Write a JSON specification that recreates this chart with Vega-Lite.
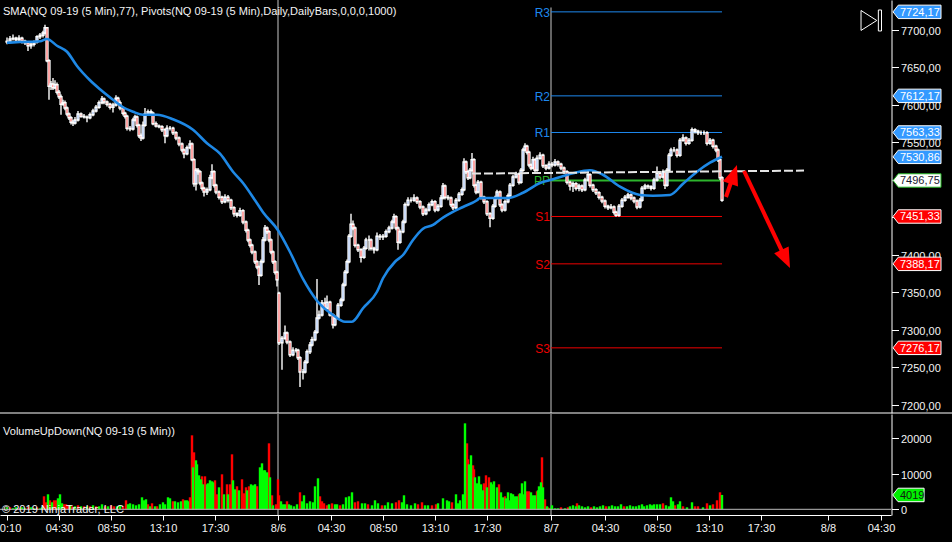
{
"$schema":"https://vega.github.io/schema/vega-lite/v6.json",
"width":952,"height":542,"padding":0,"autosize":"none","background":"#000000",
"config":{"view":{"stroke":null},"font":"Liberation Sans","axis":{"grid":false,"title":null}},
"datasets":{
"candles":[
{"t":7,"o":7684,"h":7690,"l":7681,"c":7685},{"t":10,"o":7685,"h":7692,"l":7683,"c":7688},{"t":13,"o":7688,"h":7694,"l":7686,"c":7689},{"t":16,"o":7689,"h":7691,"l":7684,"c":7687},{"t":19,"o":7687,"h":7693,"l":7685,"c":7689},{"t":22,"o":7689,"h":7691,"l":7682,"c":7685},{"t":25,"o":7685,"h":7687,"l":7680,"c":7683},{"t":28,"o":7683,"h":7685,"l":7672,"c":7679},{"t":31,"o":7679,"h":7684,"l":7675,"c":7681},{"t":34,"o":7681,"h":7686,"l":7678,"c":7684},{"t":37,"o":7684,"h":7693,"l":7682,"c":7691},{"t":40,"o":7691,"h":7696,"l":7688,"c":7693},{"t":43,"o":7693,"h":7699,"l":7690,"c":7696},{"t":45,"o":7696,"h":7707,"l":7694,"c":7703},{"t":47,"o":7703,"h":7704,"l":7657,"c":7659},{"t":49,"o":7659,"h":7661,"l":7607,"c":7625},{"t":51,"o":7625,"h":7632,"l":7620,"c":7628},{"t":53,"o":7628,"h":7636,"l":7620,"c":7623},{"t":55,"o":7623,"h":7633,"l":7621,"c":7627},{"t":57,"o":7627,"h":7630,"l":7614,"c":7617},{"t":59,"o":7617,"h":7620,"l":7608,"c":7611},{"t":61,"o":7611,"h":7614,"l":7587,"c":7601},{"t":63,"o":7601,"h":7607,"l":7599,"c":7603},{"t":65,"o":7603,"h":7606,"l":7593,"c":7596},{"t":67,"o":7596,"h":7598,"l":7585,"c":7588},{"t":69,"o":7588,"h":7590,"l":7580,"c":7583},{"t":71,"o":7583,"h":7585,"l":7574,"c":7577},{"t":73,"o":7577,"h":7580,"l":7572,"c":7576},{"t":75,"o":7576,"h":7584,"l":7574,"c":7580},{"t":78,"o":7580,"h":7592,"l":7578,"c":7588},{"t":81,"o":7588,"h":7590,"l":7583,"c":7585},{"t":84,"o":7585,"h":7588,"l":7582,"c":7584},{"t":87,"o":7584,"h":7586,"l":7577,"c":7583},{"t":90,"o":7583,"h":7590,"l":7581,"c":7587},{"t":93,"o":7587,"h":7595,"l":7585,"c":7592},{"t":96,"o":7592,"h":7600,"l":7590,"c":7597},{"t":99,"o":7597,"h":7606,"l":7595,"c":7603},{"t":102,"o":7603,"h":7612,"l":7601,"c":7608},{"t":104,"o":7608,"h":7610,"l":7601,"c":7604},{"t":107,"o":7604,"h":7606,"l":7598,"c":7601},{"t":110,"o":7601,"h":7603,"l":7594,"c":7597},{"t":113,"o":7597,"h":7603,"l":7590,"c":7600},{"t":116,"o":7600,"h":7613,"l":7598,"c":7609},{"t":118,"o":7609,"h":7611,"l":7600,"c":7603},{"t":120,"o":7603,"h":7606,"l":7593,"c":7596},{"t":123,"o":7596,"h":7598,"l":7586,"c":7589},{"t":125,"o":7589,"h":7591,"l":7582,"c":7585},{"t":127,"o":7585,"h":7587,"l":7566,"c":7569},{"t":130,"o":7569,"h":7572,"l":7565,"c":7568},{"t":133,"o":7568,"h":7583,"l":7566,"c":7580},{"t":135,"o":7580,"h":7587,"l":7578,"c":7584},{"t":137,"o":7584,"h":7586,"l":7570,"c":7573},{"t":139,"o":7573,"h":7575,"l":7556,"c":7559},{"t":141,"o":7559,"h":7562,"l":7552,"c":7556},{"t":143,"o":7556,"h":7578,"l":7554,"c":7573},{"t":145,"o":7573,"h":7596,"l":7571,"c":7588},{"t":148,"o":7588,"h":7594,"l":7586,"c":7591},{"t":151,"o":7591,"h":7594,"l":7587,"c":7589},{"t":153,"o":7589,"h":7591,"l":7573,"c":7575},{"t":156,"o":7575,"h":7578,"l":7570,"c":7572},{"t":159,"o":7572,"h":7574,"l":7569,"c":7571},{"t":162,"o":7571,"h":7573,"l":7564,"c":7567},{"t":165,"o":7567,"h":7569,"l":7549,"c":7559},{"t":167,"o":7559,"h":7573,"l":7557,"c":7569},{"t":170,"o":7569,"h":7572,"l":7566,"c":7569},{"t":173,"o":7569,"h":7571,"l":7560,"c":7563},{"t":176,"o":7563,"h":7565,"l":7553,"c":7556},{"t":179,"o":7556,"h":7558,"l":7545,"c":7548},{"t":182,"o":7548,"h":7550,"l":7537,"c":7540},{"t":184,"o":7540,"h":7542,"l":7529,"c":7535},{"t":187,"o":7535,"h":7546,"l":7533,"c":7543},{"t":190,"o":7543,"h":7553,"l":7541,"c":7548},{"t":192,"o":7548,"h":7550,"l":7525,"c":7527},{"t":194,"o":7527,"h":7529,"l":7491,"c":7495},{"t":196,"o":7495,"h":7516,"l":7486,"c":7513},{"t":198,"o":7513,"h":7516,"l":7507,"c":7511},{"t":200,"o":7511,"h":7513,"l":7493,"c":7496},{"t":202,"o":7496,"h":7498,"l":7486,"c":7489},{"t":204,"o":7489,"h":7491,"l":7478,"c":7484},{"t":207,"o":7484,"h":7490,"l":7480,"c":7487},{"t":210,"o":7487,"h":7507,"l":7485,"c":7503},{"t":212,"o":7503,"h":7521,"l":7501,"c":7511},{"t":214,"o":7511,"h":7513,"l":7490,"c":7493},{"t":216,"o":7493,"h":7495,"l":7481,"c":7484},{"t":219,"o":7484,"h":7486,"l":7474,"c":7477},{"t":222,"o":7477,"h":7479,"l":7468,"c":7471},{"t":225,"o":7471,"h":7481,"l":7469,"c":7477},{"t":228,"o":7477,"h":7480,"l":7470,"c":7473},{"t":231,"o":7473,"h":7475,"l":7460,"c":7463},{"t":234,"o":7463,"h":7465,"l":7451,"c":7455},{"t":237,"o":7455,"h":7457,"l":7450,"c":7453},{"t":240,"o":7453,"h":7463,"l":7451,"c":7459},{"t":243,"o":7459,"h":7461,"l":7441,"c":7444},{"t":246,"o":7444,"h":7446,"l":7430,"c":7433},{"t":248,"o":7433,"h":7435,"l":7417,"c":7420},{"t":250,"o":7420,"h":7422,"l":7410,"c":7413},{"t":252,"o":7413,"h":7415,"l":7401,"c":7404},{"t":255,"o":7404,"h":7406,"l":7388,"c":7391},{"t":257,"o":7391,"h":7393,"l":7381,"c":7384},{"t":259,"o":7384,"h":7386,"l":7360,"c":7373},{"t":261,"o":7373,"h":7394,"l":7371,"c":7391},{"t":263,"o":7391,"h":7424,"l":7389,"c":7420},{"t":265,"o":7420,"h":7440,"l":7418,"c":7436},{"t":267,"o":7436,"h":7438,"l":7428,"c":7431},{"t":269,"o":7431,"h":7433,"l":7417,"c":7420},{"t":271,"o":7420,"h":7422,"l":7401,"c":7404},{"t":273,"o":7404,"h":7406,"l":7388,"c":7391},{"t":275,"o":7391,"h":7393,"l":7374,"c":7377},{"t":277,"o":7377,"h":7379,"l":7358,"c":7367},{"t":279,"o":7349,"h":7351,"l":7280,"c":7283},{"t":282,"o":7283,"h":7292,"l":7247,"c":7289},{"t":285,"o":7289,"h":7306,"l":7287,"c":7296},{"t":287,"o":7296,"h":7298,"l":7281,"c":7284},{"t":290,"o":7284,"h":7286,"l":7264,"c":7267},{"t":293,"o":7267,"h":7277,"l":7265,"c":7273},{"t":296,"o":7273,"h":7276,"l":7270,"c":7273},{"t":298,"o":7273,"h":7275,"l":7260,"c":7263},{"t":300,"o":7263,"h":7265,"l":7224,"c":7244},{"t":303,"o":7244,"h":7248,"l":7234,"c":7244},{"t":305,"o":7244,"h":7260,"l":7242,"c":7257},{"t":307,"o":7257,"h":7274,"l":7255,"c":7271},{"t":310,"o":7271,"h":7284,"l":7268,"c":7280},{"t":312,"o":7280,"h":7291,"l":7278,"c":7287},{"t":315,"o":7287,"h":7300,"l":7285,"c":7297},{"t":317,"o":7297,"h":7368,"l":7295,"c":7316},{"t":319,"o":7316,"h":7326,"l":7314,"c":7320},{"t":322,"o":7320,"h":7340,"l":7318,"c":7336},{"t":325,"o":7336,"h":7343,"l":7327,"c":7329},{"t":327,"o":7329,"h":7346,"l":7327,"c":7337},{"t":330,"o":7337,"h":7339,"l":7318,"c":7320},{"t":333,"o":7320,"h":7322,"l":7302,"c":7307},{"t":335,"o":7307,"h":7319,"l":7305,"c":7316},{"t":338,"o":7316,"h":7336,"l":7314,"c":7333},{"t":341,"o":7333,"h":7343,"l":7331,"c":7340},{"t":343,"o":7340,"h":7363,"l":7338,"c":7360},{"t":345,"o":7360,"h":7380,"l":7358,"c":7377},{"t":347,"o":7377,"h":7394,"l":7375,"c":7391},{"t":349,"o":7391,"h":7428,"l":7389,"c":7425},{"t":351,"o":7425,"h":7455,"l":7423,"c":7441},{"t":353,"o":7441,"h":7446,"l":7433,"c":7436},{"t":355,"o":7436,"h":7438,"l":7410,"c":7413},{"t":358,"o":7413,"h":7415,"l":7404,"c":7407},{"t":361,"o":7407,"h":7409,"l":7390,"c":7397},{"t":364,"o":7397,"h":7412,"l":7395,"c":7409},{"t":366,"o":7409,"h":7423,"l":7407,"c":7420},{"t":369,"o":7420,"h":7426,"l":7406,"c":7420},{"t":371,"o":7420,"h":7422,"l":7406,"c":7409},{"t":374,"o":7409,"h":7411,"l":7402,"c":7407},{"t":377,"o":7407,"h":7430,"l":7405,"c":7425},{"t":380,"o":7425,"h":7428,"l":7420,"c":7424},{"t":383,"o":7424,"h":7428,"l":7420,"c":7425},{"t":386,"o":7425,"h":7434,"l":7423,"c":7431},{"t":389,"o":7431,"h":7439,"l":7429,"c":7436},{"t":392,"o":7436,"h":7447,"l":7434,"c":7444},{"t":394,"o":7444,"h":7455,"l":7442,"c":7451},{"t":396,"o":7451,"h":7453,"l":7433,"c":7436},{"t":398,"o":7436,"h":7438,"l":7407,"c":7417},{"t":400,"o":7417,"h":7434,"l":7415,"c":7431},{"t":403,"o":7431,"h":7447,"l":7429,"c":7444},{"t":405,"o":7444,"h":7470,"l":7442,"c":7467},{"t":408,"o":7467,"h":7477,"l":7465,"c":7473},{"t":411,"o":7473,"h":7477,"l":7470,"c":7473},{"t":414,"o":7473,"h":7481,"l":7471,"c":7476},{"t":417,"o":7476,"h":7478,"l":7468,"c":7471},{"t":420,"o":7471,"h":7473,"l":7461,"c":7464},{"t":423,"o":7464,"h":7466,"l":7452,"c":7455},{"t":426,"o":7455,"h":7463,"l":7453,"c":7460},{"t":429,"o":7460,"h":7470,"l":7458,"c":7467},{"t":432,"o":7467,"h":7474,"l":7465,"c":7471},{"t":435,"o":7471,"h":7473,"l":7457,"c":7460},{"t":438,"o":7460,"h":7468,"l":7458,"c":7465},{"t":441,"o":7465,"h":7480,"l":7463,"c":7476},{"t":443,"o":7476,"h":7496,"l":7474,"c":7492},{"t":445,"o":7492,"h":7494,"l":7474,"c":7477},{"t":448,"o":7477,"h":7480,"l":7473,"c":7476},{"t":451,"o":7476,"h":7478,"l":7464,"c":7467},{"t":453,"o":7467,"h":7469,"l":7460,"c":7463},{"t":456,"o":7463,"h":7476,"l":7461,"c":7473},{"t":459,"o":7473,"h":7484,"l":7471,"c":7481},{"t":462,"o":7481,"h":7490,"l":7479,"c":7487},{"t":464,"o":7487,"h":7529,"l":7485,"c":7524},{"t":466,"o":7524,"h":7526,"l":7508,"c":7511},{"t":468,"o":7511,"h":7513,"l":7500,"c":7503},{"t":470,"o":7503,"h":7516,"l":7501,"c":7513},{"t":472,"o":7513,"h":7536,"l":7511,"c":7527},{"t":474,"o":7527,"h":7529,"l":7490,"c":7493},{"t":476,"o":7493,"h":7495,"l":7481,"c":7484},{"t":478,"o":7484,"h":7500,"l":7482,"c":7497},{"t":481,"o":7497,"h":7499,"l":7474,"c":7477},{"t":484,"o":7477,"h":7479,"l":7468,"c":7471},{"t":487,"o":7471,"h":7473,"l":7452,"c":7455},{"t":490,"o":7455,"h":7457,"l":7437,"c":7449},{"t":493,"o":7449,"h":7468,"l":7447,"c":7465},{"t":495,"o":7465,"h":7479,"l":7463,"c":7476},{"t":497,"o":7476,"h":7487,"l":7474,"c":7484},{"t":500,"o":7484,"h":7486,"l":7464,"c":7467},{"t":502,"o":7467,"h":7469,"l":7457,"c":7460},{"t":505,"o":7460,"h":7474,"l":7458,"c":7471},{"t":508,"o":7471,"h":7482,"l":7469,"c":7479},{"t":510,"o":7479,"h":7496,"l":7477,"c":7493},{"t":513,"o":7493,"h":7507,"l":7491,"c":7504},{"t":516,"o":7504,"h":7511,"l":7502,"c":7508},{"t":519,"o":7508,"h":7510,"l":7494,"c":7497},{"t":521,"o":7497,"h":7516,"l":7495,"c":7513},{"t":523,"o":7513,"h":7543,"l":7511,"c":7540},{"t":525,"o":7540,"h":7549,"l":7538,"c":7545},{"t":527,"o":7545,"h":7547,"l":7534,"c":7537},{"t":529,"o":7537,"h":7539,"l":7517,"c":7520},{"t":531,"o":7520,"h":7522,"l":7513,"c":7516},{"t":533,"o":7516,"h":7531,"l":7514,"c":7527},{"t":535,"o":7527,"h":7529,"l":7510,"c":7513},{"t":537,"o":7513,"h":7533,"l":7511,"c":7529},{"t":540,"o":7529,"h":7537,"l":7527,"c":7533},{"t":543,"o":7533,"h":7535,"l":7516,"c":7519},{"t":546,"o":7519,"h":7521,"l":7513,"c":7516},{"t":549,"o":7516,"h":7525,"l":7514,"c":7521},{"t":552,"o":7521,"h":7524,"l":7517,"c":7520},{"t":555,"o":7520,"h":7528,"l":7518,"c":7524},{"t":558,"o":7524,"h":7526,"l":7518,"c":7521},{"t":561,"o":7521,"h":7523,"l":7513,"c":7516},{"t":564,"o":7516,"h":7518,"l":7508,"c":7511},{"t":567,"o":7511,"h":7513,"l":7494,"c":7497},{"t":570,"o":7497,"h":7499,"l":7486,"c":7492},{"t":573,"o":7492,"h":7498,"l":7484,"c":7495},{"t":576,"o":7495,"h":7497,"l":7486,"c":7489},{"t":579,"o":7489,"h":7495,"l":7485,"c":7492},{"t":582,"o":7492,"h":7494,"l":7484,"c":7487},{"t":585,"o":7487,"h":7503,"l":7485,"c":7500},{"t":588,"o":7500,"h":7512,"l":7498,"c":7507},{"t":590,"o":7507,"h":7509,"l":7490,"c":7493},{"t":593,"o":7493,"h":7495,"l":7484,"c":7487},{"t":596,"o":7487,"h":7489,"l":7480,"c":7483},{"t":599,"o":7483,"h":7485,"l":7474,"c":7477},{"t":602,"o":7477,"h":7479,"l":7469,"c":7472},{"t":605,"o":7472,"h":7474,"l":7462,"c":7465},{"t":608,"o":7465,"h":7467,"l":7460,"c":7463},{"t":611,"o":7463,"h":7468,"l":7461,"c":7464},{"t":614,"o":7464,"h":7466,"l":7454,"c":7457},{"t":616,"o":7457,"h":7459,"l":7451,"c":7453},{"t":619,"o":7453,"h":7468,"l":7451,"c":7465},{"t":622,"o":7465,"h":7476,"l":7463,"c":7473},{"t":625,"o":7473,"h":7480,"l":7471,"c":7477},{"t":628,"o":7477,"h":7483,"l":7475,"c":7480},{"t":631,"o":7480,"h":7482,"l":7473,"c":7476},{"t":634,"o":7476,"h":7478,"l":7469,"c":7472},{"t":637,"o":7472,"h":7474,"l":7461,"c":7464},{"t":640,"o":7464,"h":7476,"l":7462,"c":7473},{"t":642,"o":7473,"h":7492,"l":7471,"c":7489},{"t":645,"o":7489,"h":7495,"l":7487,"c":7492},{"t":648,"o":7492,"h":7494,"l":7488,"c":7491},{"t":651,"o":7491,"h":7493,"l":7486,"c":7489},{"t":654,"o":7489,"h":7503,"l":7487,"c":7500},{"t":657,"o":7500,"h":7518,"l":7498,"c":7509},{"t":660,"o":7509,"h":7511,"l":7501,"c":7504},{"t":663,"o":7504,"h":7514,"l":7502,"c":7511},{"t":665,"o":7511,"h":7513,"l":7488,"c":7493},{"t":667,"o":7493,"h":7516,"l":7491,"c":7513},{"t":669,"o":7513,"h":7536,"l":7511,"c":7533},{"t":671,"o":7533,"h":7543,"l":7531,"c":7540},{"t":674,"o":7540,"h":7544,"l":7537,"c":7540},{"t":677,"o":7540,"h":7542,"l":7530,"c":7533},{"t":680,"o":7533,"h":7556,"l":7531,"c":7553},{"t":683,"o":7553,"h":7561,"l":7551,"c":7556},{"t":686,"o":7556,"h":7558,"l":7546,"c":7549},{"t":689,"o":7549,"h":7556,"l":7547,"c":7553},{"t":692,"o":7553,"h":7570,"l":7551,"c":7567},{"t":695,"o":7567,"h":7569,"l":7562,"c":7565},{"t":698,"o":7565,"h":7567,"l":7560,"c":7563},{"t":701,"o":7563,"h":7566,"l":7560,"c":7563},{"t":704,"o":7563,"h":7566,"l":7560,"c":7563},{"t":707,"o":7563,"h":7565,"l":7546,"c":7549},{"t":710,"o":7549,"h":7556,"l":7547,"c":7553},{"t":713,"o":7553,"h":7555,"l":7542,"c":7545},{"t":716,"o":7545,"h":7547,"l":7537,"c":7540},{"t":718,"o":7540,"h":7542,"l":7524,"c":7527},{"t":720,"o":7527,"h":7529,"l":7500,"c":7503},{"t":722,"o":7503,"h":7505,"l":7471,"c":7473}
],
"sma":[
{"t":7,"p":7683},{"t":20,"p":7684},{"t":40,"p":7685},{"t":47,"p":7688},{"t":57,"p":7679},{"t":67,"p":7671},{"t":77,"p":7652},{"t":90,"p":7633},{"t":100,"p":7621},{"t":113,"p":7607},{"t":123,"p":7597},{"t":133,"p":7591},{"t":143,"p":7587},{"t":157,"p":7587},{"t":173,"p":7581},{"t":193,"p":7567},{"t":207,"p":7549},{"t":220,"p":7535},{"t":233,"p":7511},{"t":243,"p":7496},{"t":255,"p":7473},{"t":263,"p":7457},{"t":278,"p":7433},{"t":290,"p":7404},{"t":303,"p":7368},{"t":317,"p":7339},{"t":333,"p":7320},{"t":345,"p":7311},{"t":352,"p":7311},{"t":363,"p":7329},{"t":377,"p":7351},{"t":383,"p":7369},{"t":395,"p":7391},{"t":403,"p":7400},{"t":413,"p":7420},{"t":423,"p":7435},{"t":433,"p":7440},{"t":440,"p":7447},{"t":447,"p":7453},{"t":463,"p":7464},{"t":477,"p":7473},{"t":480,"p":7476},{"t":497,"p":7476},{"t":508,"p":7476},{"t":523,"p":7483},{"t":540,"p":7496},{"t":553,"p":7501},{"t":573,"p":7509},{"t":590,"p":7513},{"t":603,"p":7507},{"t":620,"p":7491},{"t":640,"p":7480},{"t":653,"p":7479},{"t":670,"p":7480},{"t":683,"p":7495},{"t":697,"p":7511},{"t":710,"p":7523},{"t":722,"p":7531}
],
"pivots":[
{"name":"R3","a":551,"b":722,"p":7724.17,"col":"#1e88ee","w":1},
{"name":"R2","a":551,"b":722,"p":7612.17,"col":"#1e88ee","w":1},
{"name":"R1","a":551,"b":722,"p":7563.33,"col":"#1e88ee","w":1},
{"name":"PP","a":551,"b":722,"p":7499.33,"col":"#2db52d","w":2},
{"name":"S1","a":551,"b":722,"p":7451.33,"col":"#ee0000","w":1},
{"name":"S2","a":551,"b":722,"p":7388.17,"col":"#ee0000","w":1},
{"name":"S3","a":551,"b":722,"p":7276.17,"col":"#ee0000","w":1}
],
"tags":[
{"p":7724.17,"label":"7724,17","fill":"#3399ff","text":"#ffffff","edge":"#ffffff"},
{"p":7612.17,"label":"7612,17","fill":"#3399ff","text":"#ffffff","edge":"#ffffff"},
{"p":7563.33,"label":"7563,33","fill":"#3399ff","text":"#ffffff","edge":"#ffffff"},
{"p":7530.86,"label":"7530,86","fill":"#3399ff","text":"#ffffff","edge":"#ffffff"},
{"p":7499.33,"label":"7496,75","fill":"#ffffff","text":"#1a2030","edge":"#22b022"},
{"p":7451.33,"label":"7451,33","fill":"#ff0000","text":"#ffffff","edge":"#ffffff"},
{"p":7388.17,"label":"7388,17","fill":"#ff0000","text":"#ffffff","edge":"#ffffff"},
{"p":7276.17,"label":"7276,17","fill":"#ff0000","text":"#ffffff","edge":"#ffffff"}
],
"dashed":[{"t":472,"p":7508.5},{"t":804,"p":7512.5}],
"shafts":[{"a":726,"b":733.7,"p":7477.3,"q":7507.3},{"a":744,"b":785.7,"p":7512,"q":7394.7}],
"heads":[{"t":733.7,"p":7507.3,"ang":19},{"t":785.7,"p":7394.7,"ang":154.6}],
"sessions":[{"t":278,"top":7740},{"t":551,"top":7730}],
"volume":[
{"t":7,"v":560,"d":"u"},{"t":10,"v":560,"d":"d"},{"t":13,"v":280,"d":"u"},{"t":16,"v":560,"d":"u"},{"t":19,"v":280,"d":"d"},{"t":22,"v":560,"d":"u"},{"t":25,"v":280,"d":"u"},{"t":28,"v":560,"d":"d"},{"t":31,"v":560,"d":"u"},{"t":34,"v":280,"d":"u"},{"t":37,"v":560,"d":"d"},{"t":40,"v":280,"d":"u"},{"t":42,"v":560,"d":"u"},{"t":44,"v":3640,"d":"d"},{"t":46,"v":1960,"d":"d"},{"t":48,"v":4200,"d":"u"},{"t":50,"v":2520,"d":"d"},{"t":52,"v":1960,"d":"u"},{"t":54,"v":2520,"d":"d"},{"t":56,"v":2520,"d":"d"},{"t":58,"v":3080,"d":"u"},{"t":60,"v":4200,"d":"u"},{"t":62,"v":1680,"d":"u"},{"t":64,"v":1400,"d":"d"},{"t":66,"v":1400,"d":"d"},{"t":68,"v":1120,"d":"d"},{"t":70,"v":1120,"d":"u"},{"t":72,"v":840,"d":"d"},{"t":75,"v":840,"d":"u"},{"t":78,"v":1120,"d":"d"},{"t":81,"v":840,"d":"u"},{"t":84,"v":840,"d":"d"},{"t":87,"v":840,"d":"u"},{"t":90,"v":840,"d":"d"},{"t":93,"v":1120,"d":"u"},{"t":96,"v":840,"d":"d"},{"t":99,"v":840,"d":"u"},{"t":102,"v":1400,"d":"u"},{"t":105,"v":840,"d":"d"},{"t":108,"v":840,"d":"u"},{"t":111,"v":1120,"d":"d"},{"t":114,"v":840,"d":"d"},{"t":117,"v":840,"d":"u"},{"t":120,"v":1120,"d":"u"},{"t":123,"v":840,"d":"d"},{"t":126,"v":2520,"d":"d"},{"t":128,"v":1400,"d":"u"},{"t":130,"v":1680,"d":"u"},{"t":133,"v":1400,"d":"u"},{"t":136,"v":1120,"d":"u"},{"t":139,"v":1400,"d":"u"},{"t":142,"v":3360,"d":"u"},{"t":144,"v":2520,"d":"u"},{"t":146,"v":2800,"d":"u"},{"t":148,"v":1400,"d":"d"},{"t":150,"v":840,"d":"u"},{"t":152,"v":1680,"d":"d"},{"t":155,"v":840,"d":"u"},{"t":157,"v":840,"d":"d"},{"t":160,"v":1400,"d":"u"},{"t":163,"v":1960,"d":"u"},{"t":165,"v":1400,"d":"u"},{"t":168,"v":3360,"d":"u"},{"t":170,"v":3080,"d":"u"},{"t":173,"v":2240,"d":"d"},{"t":175,"v":2240,"d":"u"},{"t":178,"v":1960,"d":"u"},{"t":181,"v":2240,"d":"u"},{"t":183,"v":2800,"d":"d"},{"t":185,"v":2520,"d":"u"},{"t":187,"v":2520,"d":"u"},{"t":188,"v":2240,"d":"u"},{"t":190,"v":3360,"d":"d"},{"t":192,"v":20720,"d":"d"},{"t":194,"v":15960,"d":"d"},{"t":193,"v":11760,"d":"u"},{"t":196,"v":13720,"d":"u"},{"t":197,"v":12600,"d":"u"},{"t":199,"v":9520,"d":"u"},{"t":201,"v":8400,"d":"u"},{"t":202,"v":9240,"d":"d"},{"t":203,"v":7000,"d":"u"},{"t":205,"v":9240,"d":"d"},{"t":207,"v":7000,"d":"u"},{"t":208,"v":7280,"d":"u"},{"t":210,"v":8120,"d":"u"},{"t":212,"v":7840,"d":"u"},{"t":213,"v":7560,"d":"u"},{"t":215,"v":8120,"d":"d"},{"t":217,"v":4200,"d":"d"},{"t":219,"v":6160,"d":"u"},{"t":222,"v":9800,"d":"d"},{"t":224,"v":4200,"d":"u"},{"t":227,"v":7000,"d":"d"},{"t":228,"v":4200,"d":"u"},{"t":230,"v":7000,"d":"d"},{"t":232,"v":15400,"d":"d"},{"t":233,"v":8120,"d":"u"},{"t":235,"v":5600,"d":"u"},{"t":237,"v":6440,"d":"d"},{"t":239,"v":5320,"d":"u"},{"t":242,"v":8400,"d":"d"},{"t":244,"v":4480,"d":"d"},{"t":246,"v":6160,"d":"d"},{"t":247,"v":5320,"d":"u"},{"t":249,"v":6440,"d":"d"},{"t":251,"v":7000,"d":"u"},{"t":253,"v":6720,"d":"u"},{"t":255,"v":7000,"d":"u"},{"t":257,"v":6440,"d":"d"},{"t":260,"v":11760,"d":"u"},{"t":262,"v":12880,"d":"u"},{"t":264,"v":10920,"d":"u"},{"t":265,"v":10920,"d":"u"},{"t":267,"v":10360,"d":"u"},{"t":269,"v":18480,"d":"d"},{"t":270,"v":8960,"d":"u"},{"t":272,"v":3920,"d":"d"},{"t":273,"v":1120,"d":"u"},{"t":276,"v":1400,"d":"d"},{"t":278,"v":8400,"d":"d"},{"t":279,"v":3920,"d":"d"},{"t":281,"v":2240,"d":"u"},{"t":283,"v":1400,"d":"u"},{"t":285,"v":1400,"d":"u"},{"t":287,"v":2240,"d":"d"},{"t":289,"v":1400,"d":"u"},{"t":291,"v":1120,"d":"u"},{"t":294,"v":840,"d":"u"},{"t":297,"v":1400,"d":"u"},{"t":300,"v":4760,"d":"d"},{"t":302,"v":2240,"d":"u"},{"t":304,"v":3920,"d":"u"},{"t":307,"v":1680,"d":"u"},{"t":310,"v":2240,"d":"u"},{"t":313,"v":1960,"d":"u"},{"t":315,"v":6440,"d":"u"},{"t":318,"v":8680,"d":"u"},{"t":320,"v":3640,"d":"d"},{"t":322,"v":2240,"d":"d"},{"t":324,"v":1680,"d":"d"},{"t":327,"v":1120,"d":"d"},{"t":329,"v":1400,"d":"u"},{"t":332,"v":1680,"d":"d"},{"t":335,"v":1400,"d":"u"},{"t":337,"v":1400,"d":"u"},{"t":340,"v":1120,"d":"d"},{"t":343,"v":1400,"d":"u"},{"t":346,"v":3360,"d":"u"},{"t":349,"v":3640,"d":"u"},{"t":352,"v":4760,"d":"u"},{"t":355,"v":1960,"d":"d"},{"t":358,"v":2240,"d":"d"},{"t":362,"v":1680,"d":"u"},{"t":365,"v":1680,"d":"u"},{"t":368,"v":1400,"d":"d"},{"t":372,"v":1120,"d":"u"},{"t":375,"v":2520,"d":"u"},{"t":378,"v":1680,"d":"u"},{"t":382,"v":1120,"d":"d"},{"t":385,"v":1120,"d":"u"},{"t":388,"v":1960,"d":"u"},{"t":392,"v":1680,"d":"u"},{"t":396,"v":1960,"d":"d"},{"t":399,"v":2520,"d":"d"},{"t":402,"v":1960,"d":"u"},{"t":404,"v":3920,"d":"u"},{"t":407,"v":1400,"d":"u"},{"t":411,"v":1120,"d":"u"},{"t":415,"v":1680,"d":"u"},{"t":418,"v":1400,"d":"d"},{"t":422,"v":1960,"d":"d"},{"t":425,"v":1120,"d":"u"},{"t":428,"v":1120,"d":"u"},{"t":432,"v":1120,"d":"d"},{"t":436,"v":1400,"d":"d"},{"t":438,"v":1680,"d":"u"},{"t":443,"v":3080,"d":"u"},{"t":447,"v":2520,"d":"u"},{"t":449,"v":2240,"d":"u"},{"t":452,"v":1960,"d":"d"},{"t":456,"v":4200,"d":"u"},{"t":458,"v":1680,"d":"u"},{"t":460,"v":2520,"d":"u"},{"t":463,"v":4200,"d":"u"},{"t":467,"v":18480,"d":"d"},{"t":468,"v":14000,"d":"d"},{"t":465,"v":24080,"d":"u"},{"t":469,"v":12600,"d":"u"},{"t":471,"v":15120,"d":"u"},{"t":473,"v":12320,"d":"d"},{"t":474,"v":11200,"d":"d"},{"t":475,"v":8960,"d":"u"},{"t":477,"v":7280,"d":"u"},{"t":479,"v":9240,"d":"u"},{"t":481,"v":7000,"d":"u"},{"t":483,"v":5320,"d":"u"},{"t":484,"v":7280,"d":"d"},{"t":486,"v":9520,"d":"d"},{"t":487,"v":6160,"d":"u"},{"t":489,"v":8960,"d":"d"},{"t":491,"v":7560,"d":"u"},{"t":492,"v":7000,"d":"u"},{"t":494,"v":7840,"d":"u"},{"t":497,"v":6160,"d":"u"},{"t":499,"v":7000,"d":"d"},{"t":501,"v":4760,"d":"u"},{"t":503,"v":3360,"d":"u"},{"t":505,"v":3640,"d":"d"},{"t":506,"v":3080,"d":"u"},{"t":508,"v":4760,"d":"u"},{"t":509,"v":2520,"d":"u"},{"t":511,"v":4480,"d":"u"},{"t":513,"v":4200,"d":"u"},{"t":515,"v":3640,"d":"u"},{"t":517,"v":3640,"d":"u"},{"t":519,"v":4200,"d":"d"},{"t":520,"v":4480,"d":"u"},{"t":522,"v":7280,"d":"u"},{"t":523,"v":4200,"d":"u"},{"t":525,"v":7840,"d":"u"},{"t":527,"v":5040,"d":"d"},{"t":529,"v":5040,"d":"d"},{"t":531,"v":4760,"d":"u"},{"t":533,"v":3920,"d":"u"},{"t":535,"v":3920,"d":"u"},{"t":537,"v":5040,"d":"d"},{"t":538,"v":5320,"d":"u"},{"t":539,"v":6440,"d":"u"},{"t":542,"v":14560,"d":"d"},{"t":541,"v":7560,"d":"u"},{"t":543,"v":6160,"d":"u"},{"t":545,"v":2800,"d":"d"},{"t":547,"v":840,"d":"u"},{"t":548,"v":560,"d":"d"},{"t":550,"v":280,"d":"u"},{"t":552,"v":1120,"d":"u"},{"t":555,"v":280,"d":"u"},{"t":558,"v":280,"d":"u"},{"t":561,"v":560,"d":"d"},{"t":565,"v":280,"d":"u"},{"t":568,"v":560,"d":"d"},{"t":570,"v":840,"d":"u"},{"t":573,"v":1120,"d":"u"},{"t":576,"v":840,"d":"u"},{"t":577,"v":1680,"d":"d"},{"t":579,"v":1120,"d":"u"},{"t":582,"v":840,"d":"u"},{"t":585,"v":560,"d":"u"},{"t":588,"v":840,"d":"u"},{"t":591,"v":560,"d":"d"},{"t":594,"v":840,"d":"u"},{"t":597,"v":560,"d":"u"},{"t":600,"v":840,"d":"u"},{"t":603,"v":1120,"d":"u"},{"t":606,"v":840,"d":"d"},{"t":609,"v":840,"d":"u"},{"t":612,"v":1120,"d":"u"},{"t":615,"v":840,"d":"u"},{"t":618,"v":840,"d":"u"},{"t":621,"v":1400,"d":"u"},{"t":624,"v":840,"d":"d"},{"t":627,"v":840,"d":"u"},{"t":630,"v":1120,"d":"u"},{"t":633,"v":840,"d":"u"},{"t":636,"v":840,"d":"u"},{"t":639,"v":1120,"d":"u"},{"t":642,"v":1400,"d":"u"},{"t":644,"v":840,"d":"u"},{"t":647,"v":1120,"d":"u"},{"t":650,"v":1400,"d":"u"},{"t":652,"v":1120,"d":"u"},{"t":654,"v":1400,"d":"u"},{"t":657,"v":1400,"d":"u"},{"t":660,"v":1400,"d":"u"},{"t":663,"v":1680,"d":"d"},{"t":666,"v":1120,"d":"u"},{"t":669,"v":840,"d":"u"},{"t":671,"v":3360,"d":"u"},{"t":673,"v":2240,"d":"u"},{"t":675,"v":1120,"d":"d"},{"t":678,"v":1400,"d":"u"},{"t":680,"v":2240,"d":"u"},{"t":683,"v":840,"d":"d"},{"t":687,"v":560,"d":"u"},{"t":692,"v":1960,"d":"u"},{"t":695,"v":840,"d":"d"},{"t":698,"v":840,"d":"d"},{"t":703,"v":560,"d":"u"},{"t":707,"v":1680,"d":"d"},{"t":710,"v":1120,"d":"u"},{"t":713,"v":1400,"d":"d"},{"t":717,"v":2520,"d":"d"},{"t":720,"v":4760,"d":"d"},{"t":722,"v":4019,"d":"u"}
]
},
"layer":[
{"layer":[
{"data":{"name":"sessions"},"mark":{"type":"rule","color":"#c8c8c8","strokeWidth":1},
 "encoding":{"x":{"field":"t","type":"quantitative","scale":{"domain":[0,891],"range":[0,891],"nice":false,"zero":false,"padding":0},
   "axis":{"orient":"bottom","offset":-27,"title":null,"grid":false,"domainColor":"#ffffff","tickColor":"#ffffff","tickSize":5,"labelColor":"#f4f4f4","labelFont":"Liberation Sans","labelFontSize":11,"labelPadding":2,"labelOverlap":false,"labelBound":false,"labelFlush":false,"values":[7,59,111,163,215,278,331,383,435,487,551,605,657,709,761,828,881],
   "labelExpr":"({7:'00:10',59:'04:30',111:'08:50',163:'13:10',215:'17:30',278:'8/6',331:'04:30',383:'08:50',435:'13:10',487:'17:30',551:'8/7',605:'04:30',657:'08:50',709:'13:10',761:'17:30',828:'8/8',881:'04:30'})[datum.value]"}},
  "y":{"field":"top","type":"quantitative","scale":{"domain":[7189.3,7740],"range":[413,0],"nice":false,"zero":false},
   "axis":{"orient":"right","offset":-60.5,"title":null,"grid":false,"domainColor":"#ffffff","tickColor":"#ffffff","tickSize":7,"labelColor":"#f4f4f4","labelFont":"Liberation Sans","labelFontSize":11,"labelPadding":2,"labelOffset":1.5,"labelOverlap":false,"labelBound":false,"values":[7200,7250,7300,7350,7400,7450,7500,7550,7600,7650,7700],"labelExpr":"replace(format(datum.value,'.2f'),'.',',')"}},
  "y2":{"datum":7189.3}}},
{"data":{"name":"pivots"},"mark":{"type":"rule"},"encoding":{"x":{"field":"a","type":"quantitative","scale":{"domain":[0,891],"range":[0,891],"padding":0},"axis":{"orient":"bottom","offset":-27}},"x2":{"field":"b"},"y":{"field":"p","type":"quantitative","scale":{"domain":[7189.3,7740],"range":[413,0]},"axis":{"orient":"right","offset":-60.5}},"color":{"field":"col","type":"nominal","scale":null,"legend":null},"strokeWidth":{"field":"w","type":"quantitative","scale":null,"legend":null}}},
{"data":{"name":"pivots"},"mark":{"type":"text","align":"right","baseline":"middle","fontSize":12,"font":"Liberation Sans","dx":-1,"dy":1},"encoding":{"x":{"field":"a","type":"quantitative","scale":{"domain":[0,891],"range":[0,891],"padding":0},"axis":{"orient":"bottom","offset":-27}},"y":{"field":"p","type":"quantitative","scale":{"domain":[7189.3,7740],"range":[413,0]},"axis":{"orient":"right","offset":-60.5}},"text":{"field":"name"},"color":{"field":"col","type":"nominal","scale":null,"legend":null}}},
{"data":{"name":"candles"},"mark":{"type":"rule","color":"#ffffff","strokeWidth":1.4},"encoding":{"x":{"field":"t","type":"quantitative","scale":{"domain":[0,891],"range":[0,891],"padding":0},"axis":{"orient":"bottom","offset":-27}},"y":{"field":"h","type":"quantitative","scale":{"domain":[7189.3,7740],"range":[413,0]},"axis":{"orient":"right","offset":-60.5}},"y2":{"field":"l"}}},
{"data":{"name":"candles"},"mark":{"type":"bar","width":2,"stroke":"#ffffff","strokeWidth":1.3},"encoding":{"x":{"field":"t","type":"quantitative","scale":{"domain":[0,891],"range":[0,891],"padding":0},"axis":{"orient":"bottom","offset":-27}},"y":{"field":"o","type":"quantitative","scale":{"domain":[7189.3,7740],"range":[413,0]},"axis":{"orient":"right","offset":-60.5}},"y2":{"field":"c"},"fill":{"condition":{"test":"datum.c>=datum.o","value":"#6f9bea"},"value":"#ff0000"}}},
{"data":{"name":"sma"},"mark":{"type":"line","color":"#1e88e5","strokeWidth":2.6,"interpolate":"monotone"},"encoding":{"x":{"field":"t","type":"quantitative","scale":{"domain":[0,891],"range":[0,891],"padding":0},"axis":{"orient":"bottom","offset":-27}},"y":{"field":"p","type":"quantitative","scale":{"domain":[7189.3,7740],"range":[413,0]},"axis":{"orient":"right","offset":-60.5}}}},
{"data":{"name":"dashed"},"mark":{"type":"line","color":"#e6e6e6","strokeWidth":2,"strokeDash":[9,3]},"encoding":{"x":{"field":"t","type":"quantitative","scale":{"domain":[0,891],"range":[0,891],"padding":0},"axis":{"orient":"bottom","offset":-27}},"y":{"field":"p","type":"quantitative","scale":{"domain":[7189.3,7740],"range":[413,0]},"axis":{"orient":"right","offset":-60.5}}}},
{"data":{"name":"shafts"},"mark":{"type":"rule","color":"#ff0000","strokeWidth":4},"encoding":{"x":{"field":"a","type":"quantitative","scale":{"domain":[0,891],"range":[0,891],"padding":0},"axis":{"orient":"bottom","offset":-27}},"x2":{"field":"b"},"y":{"field":"p","type":"quantitative","scale":{"domain":[7189.3,7740],"range":[413,0]},"axis":{"orient":"right","offset":-60.5}},"y2":{"field":"q"}}},
{"data":{"name":"heads"},"mark":{"type":"point","shape":"M0,-1L0.8,1L-0.8,1Z","size":400,"filled":true,"opacity":1,"color":"#ff0000"},"encoding":{"x":{"field":"t","type":"quantitative","scale":{"domain":[0,891],"range":[0,891],"padding":0},"axis":{"orient":"bottom","offset":-27}},"y":{"field":"p","type":"quantitative","scale":{"domain":[7189.3,7740],"range":[413,0]},"axis":{"orient":"right","offset":-60.5}},"angle":{"field":"ang","type":"quantitative","scale":null}}},
{"data":{"name":"tags"},"mark":{"type":"point","shape":"M-1,0L-0.78,-0.28L1,-0.28L1,0.28L-0.78,0.28Z","size":2304,"filled":true,"opacity":1,"strokeWidth":1},"encoding":{"x":{"datum":917,"type":"quantitative","scale":{"domain":[0,891],"range":[0,891],"padding":0},"axis":{"orient":"bottom","offset":-27}},"y":{"field":"p","type":"quantitative","scale":{"domain":[7189.3,7740],"range":[413,0]},"axis":{"orient":"right","offset":-60.5}},"fill":{"field":"fill","type":"nominal","scale":null,"legend":null},"stroke":{"field":"edge","type":"nominal","scale":null,"legend":null}}},
{"data":{"name":"tags"},"mark":{"type":"text","align":"left","baseline":"middle","fontSize":11,"font":"Liberation Sans","dy":1},"encoding":{"x":{"datum":900,"type":"quantitative","scale":{"domain":[0,891],"range":[0,891],"padding":0},"axis":{"orient":"bottom","offset":-27}},"y":{"field":"p","type":"quantitative","scale":{"domain":[7189.3,7740],"range":[413,0]},"axis":{"orient":"right","offset":-60.5}},"text":{"field":"label"},"color":{"field":"text","type":"nominal","scale":null,"legend":null}}},
{"data":{"values":[{"t":871,"p":7712.7}]},"mark":{"type":"point","shape":"M-0.95,-0.95L0.55,0L-0.95,0.95ZM0.7,-1L1,-1L1,1L0.7,1Z","size":441,"filled":false,"opacity":1,"color":"#ffffff","strokeWidth":1},"encoding":{"x":{"field":"t","type":"quantitative","scale":{"domain":[0,891],"range":[0,891],"padding":0},"axis":{"orient":"bottom","offset":-27}},"y":{"field":"p","type":"quantitative","scale":{"domain":[7189.3,7740],"range":[413,0]},"axis":{"orient":"right","offset":-60.5}}}},
{"data":{"values":[{"t":3,"p":7724,"s":"SMA(NQ 09-19 (5 Min),77), Pivots(NQ 09-19 (5 Min),Daily,DailyBars,0,0,0,1000)"}]},"mark":{"type":"text","align":"left","baseline":"middle","fontSize":11.05,"font":"Liberation Sans","color":"#f4f4f4"},"encoding":{"x":{"field":"t","type":"quantitative","scale":{"domain":[0,891],"range":[0,891],"padding":0},"axis":{"orient":"bottom","offset":-27}},"y":{"field":"p","type":"quantitative","scale":{"domain":[7189.3,7740],"range":[413,0]},"axis":{"orient":"right","offset":-60.5}},"text":{"field":"s"}}},
{"data":{"values":[{"a":0,"b":952,"p":7189.3}]},"mark":{"type":"rule","color":"#ffffff","strokeWidth":1},"encoding":{"x":{"field":"a","type":"quantitative","scale":{"domain":[0,891],"range":[0,891],"padding":0},"axis":{"orient":"bottom","offset":-27}},"x2":{"field":"b"},"y":{"field":"p","type":"quantitative","scale":{"domain":[7189.3,7740],"range":[413,0]},"axis":{"orient":"right","offset":-60.5}}}}
]},
{"layer":[
{"data":{"values":[{"t":278},{"t":551}]},"mark":{"type":"rule","color":"#c8c8c8","strokeWidth":1},"encoding":{"x":{"field":"t","type":"quantitative","scale":{"domain":[0,891],"range":[0,891],"padding":0},"axis":{"orient":"bottom","offset":-27}},
 "y":{"datum":26695,"type":"quantitative","scale":{"domain":[-1597,26695],"range":[515,414],"nice":false,"zero":false},
  "axis":{"orient":"right","offset":-60.5,"title":null,"grid":false,"domainColor":"#ffffff","tickColor":"#ffffff","tickSize":7,"labelColor":"#f4f4f4","labelFont":"Liberation Sans","labelFontSize":11,"labelPadding":2,"labelOffset":1.5,"values":[0,10000,20000],"format":"d"}},"y2":{"datum":-1597}}},
{"data":{"name":"volume"},"mark":{"type":"bar","width":2.4},"encoding":{"x":{"field":"t","type":"quantitative","scale":{"domain":[0,891],"range":[0,891],"padding":0},"axis":{"orient":"bottom","offset":-27}},"y":{"field":"v","type":"quantitative","scale":{"domain":[-1597,26695],"range":[515,414]},"axis":{"orient":"right","offset":-60.5}},"y2":{"datum":0},"color":{"field":"d","type":"nominal","scale":{"domain":["d","u"],"range":["#ff0000","#00ff00"]},"legend":null},"order":{"field":"d","sort":"ascending"}}},
{"data":{"values":[{"a":0,"b":891,"v":0}]},"mark":{"type":"rule","color":"#bbbbbb","strokeWidth":1},"encoding":{"x":{"field":"a","type":"quantitative","scale":{"domain":[0,891],"range":[0,891],"padding":0},"axis":{"orient":"bottom","offset":-27}},"x2":{"field":"b"},"y":{"field":"v","type":"quantitative","scale":{"domain":[-1597,26695],"range":[515,414]},"axis":{"orient":"right","offset":-60.5}}}},
{"data":{"values":[{"v":4019,"s":"4019"}]},"mark":{"type":"point","shape":"M-1,0L-0.66,-0.43L1,-0.43L1,0.43L-0.66,0.43Z","size":985,"filled":true,"opacity":1,"fill":"#00ee00","stroke":"#ffffff","strokeWidth":1},"encoding":{"x":{"datum":908.4,"type":"quantitative","scale":{"domain":[0,891],"range":[0,891],"padding":0},"axis":{"orient":"bottom","offset":-27}},"y":{"field":"v","type":"quantitative","scale":{"domain":[-1597,26695],"range":[515,414]},"axis":{"orient":"right","offset":-60.5}}}},
{"data":{"values":[{"v":4019,"s":"4019"}]},"mark":{"type":"text","align":"left","baseline":"middle","fontSize":11,"font":"Liberation Sans","color":"#102010","dy":1},"encoding":{"x":{"datum":900,"type":"quantitative","scale":{"domain":[0,891],"range":[0,891],"padding":0},"axis":{"orient":"bottom","offset":-27}},"y":{"field":"v","type":"quantitative","scale":{"domain":[-1597,26695],"range":[515,414]},"axis":{"orient":"right","offset":-60.5}},"text":{"field":"s"}}},
{"data":{"values":[{"t":3,"v":21680,"s":"VolumeUpDown(NQ 09-19 (5 Min))"},{"t":2,"v":-280,"s":"© 2019 NinjaTrader, LLC"}]},"mark":{"type":"text","align":"left","baseline":"middle","fontSize":11.05,"font":"Liberation Sans","color":"#f4f4f4"},"encoding":{"x":{"field":"t","type":"quantitative","scale":{"domain":[0,891],"range":[0,891],"padding":0},"axis":{"orient":"bottom","offset":-27}},"y":{"field":"v","type":"quantitative","scale":{"domain":[-1597,26695],"range":[515,414]},"axis":{"orient":"right","offset":-60.5}},"text":{"field":"s"}}}
]}
],
"resolve":{"scale":{"y":"independent"},"axis":{"y":"independent"}}
}
